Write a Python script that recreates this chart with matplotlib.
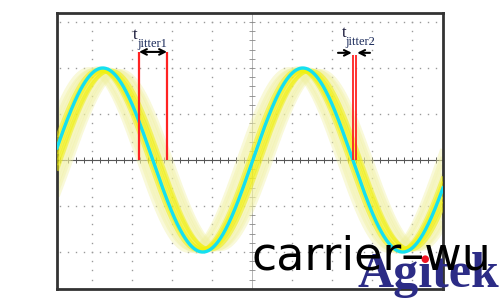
import matplotlib.pyplot as plt
import numpy as np

# scope trace, in graticule divisions
period_div = 5.0
amplitude_div = 2.0
phase_div = 0.02

# jittered copies of the trace (time shift, amplitude)
faint_shifts = [-0.34, -0.27, -0.2, -0.12, 0.16, 0.24, 0.31, 0.38, 0.44]
faint_amps = [1.96, 1.92, 1.95, 1.98, 1.95, 1.9, 1.93, 1.9, 1.92]
core_shifts = [-0.1, -0.05, 0.0, 0.05, 0.1, 0.15, 0.2]
core_amps = [1.97, 1.95, 1.93, 1.96, 1.94, 1.92, 1.95]

# jitter markers
jitter1_t = [-2.825, -2.125]
jitter1_top = 2.35
jitter2_t = [2.525, 2.6]
jitter2_top = 2.28

xlim = (-4.875, 4.775)
ylim = (-2.804, 3.196)

fig = plt.figure(figsize=(5, 3), dpi=100)
ax = fig.add_axes([57 / 500, 11 / 300, 386 / 500, 276 / 300])
ax.set_xlim(xlim)
ax.set_ylim(ylim)
ax.set_xticks([])
ax.set_yticks([])
for s in ax.spines.values():
    s.set_color('#333333')
    s.set_linewidth(2)

# graticule dots
dot_x = np.arange(-4.8, 4.81, 0.2)
dot_y = np.arange(-2.8, 3.2, 0.2)
for gy in [-2, -1, 1, 2, 3]:
    ax.plot(dot_x, np.full_like(dot_x, gy), ls='none', marker='s', ms=1.0,
            color='#9a9a9a', mew=0, zorder=1)
for gx in [-4, -3, -2, -1, 1, 2, 3, 4]:
    ax.plot(np.full_like(dot_y, gx), dot_y, ls='none', marker='s', ms=1.0,
            color='#9a9a9a', mew=0, zorder=1)

# center axes with ticks
ax.axhline(0, color='#555555', lw=0.8, zorder=1)
ax.axvline(0, color='#999999', lw=0.5, zorder=1)
tick_x = np.arange(-4.8, 4.81, 0.2)
ax.vlines(tick_x, -0.07, 0.07, color='#555555', lw=0.7, zorder=1)
tick_y = np.arange(-2.8, 3.2, 0.2)
ax.hlines(tick_y, -0.07, 0.07, color='#888888', lw=0.6, zorder=1)

t = np.linspace(xlim[0], xlim[1], 800)
for sh, a in zip(faint_shifts, faint_amps):
    v = a * np.sin(2 * np.pi * (t - phase_div - sh) / period_div)
    ax.plot(t, v, color='#f0f0a0', lw=4, alpha=0.4, zorder=2,
            solid_capstyle='butt')
for sh, a in zip(core_shifts, core_amps):
    v = a * np.sin(2 * np.pi * (t - phase_div - sh) / period_div)
    ax.plot(t, v, color='#f0f010', lw=2.5, alpha=0.55, zorder=3,
            solid_capstyle='butt')

v_main = amplitude_div * np.sin(2 * np.pi * (t - phase_div) / period_div)
ax.plot(t, v_main, color='#14e0f0', lw=2.4, zorder=4)

# red jitter lines
ax.vlines(jitter1_t, 0, jitter1_top, color='#ff2222', lw=1.6, zorder=5)
ax.vlines(jitter2_t, 0, jitter2_top, color='#ff2222', lw=1.3, zorder=5)

# arrows and labels
ax.annotate('', xy=(jitter1_t[0], jitter1_top), xytext=(jitter1_t[1], jitter1_top),
            arrowprops=dict(arrowstyle='<->', color='black', lw=1.5,
                            shrinkA=0, shrinkB=0), zorder=6)
ax.annotate('', xy=(jitter2_t[0] - 0.03, 2.33), xytext=(2.15, 2.33),
            arrowprops=dict(arrowstyle='->', color='black', lw=1.5,
                            shrinkA=0, shrinkB=0), zorder=6)
ax.annotate('', xy=(jitter2_t[1] + 0.03, 2.33), xytext=(2.95, 2.33),
            arrowprops=dict(arrowstyle='->', color='black', lw=1.5,
                            shrinkA=0, shrinkB=0), zorder=6)

ax.text(-2.98, 2.64, 't', family='Liberation Serif', fontsize=12,
        color='#1a1a3a', zorder=6)
ax.text(-2.86, 2.46, 'jitter1', family='Liberation Serif', fontsize=9,
        color='#1a2a5a', zorder=6)
ax.text(2.24, 2.68, 't', family='Liberation Serif', fontsize=12,
        color='#1a1a3a', zorder=6)
ax.text(2.34, 2.5, 'jitter2', family='Liberation Serif', fontsize=9,
        color='#1a2a5a', zorder=6)

# watermarks
fig.text(357 / 500, 13 / 300, 'Ag\u0131tek', family='Liberation Serif',
         weight='bold', fontsize=36, color='#2c2c86', ha='left',
         va='baseline')
fig.text(252 / 500, 30 / 300, 'carrier\u2013wu', family='DejaVu Sans',
         fontsize=33, color='black', ha='left', va='baseline')
fig.text(425 / 500, 41 / 300, '\u25cf', fontsize=7, color='#ee1122',
         ha='center', va='center')

plt.savefig('out.png', dpi=100)
plt.close()
